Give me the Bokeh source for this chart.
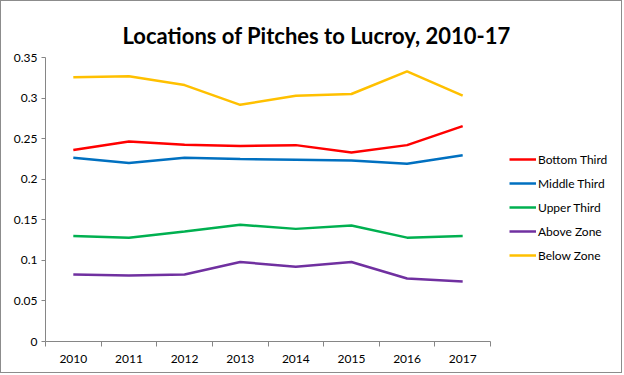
from bokeh.plotting import figure
from bokeh.models import Range1d, FixedTicker, Legend, LegendItem, Label
from bokeh.embed import file_html
from bokeh.resources import INLINE

years = [2010, 2011, 2012, 2013, 2014, 2015, 2016, 2017]
bottom_third = [0.236, 0.2465, 0.2425, 0.241, 0.242, 0.233, 0.242, 0.2655]
middle_third = [0.2265, 0.220, 0.2265, 0.225, 0.224, 0.223, 0.219, 0.2295]
upper_third = [0.130, 0.128, 0.1355, 0.1438, 0.1388, 0.143, 0.128, 0.130]
above_zone = [0.0826, 0.0813, 0.0826, 0.098, 0.092, 0.098, 0.0776, 0.074]
below_zone = [0.3257, 0.327, 0.316, 0.2917, 0.3028, 0.305, 0.333, 0.303]

series_names = ["Bottom Third", "Middle Third", "Upper Third", "Above Zone", "Below Zone"]
series_values = [bottom_third, middle_third, upper_third, above_zone, below_zone]
series_colors = ["#FF0000", "#0070C0", "#00B050", "#7030A0", "#FFC000"]

y_ticks = [0, 0.05, 0.1, 0.15, 0.2, 0.25, 0.3, 0.35]
y_tick_labels = ["0", "0.05", "0.1", "0.15", "0.2", "0.25", "0.3", "0.35"]
year_labels = ["2010", "2011", "2012", "2013", "2014", "2015", "2016", "2017"]
title_text = "Locations of Pitches to Lucroy, 2010-17"

FONT = "Lato"

# layout (pixels)
W, H = 622, 373
LEFT = 44
AXIS_W = 445          # x-axis length
AXIS_TOP = 56         # pixel row of the top of the y axis
AXIS_BOTTOM = 340     # pixel row of the x axis
FRAME_TOP = 2
RIGHT_PAD = 6
frame_w = W - LEFT - RIGHT_PAD
frame_h = AXIS_BOTTOM - FRAME_TOP
x0 = years[0] - 0.5
x1 = years[-1] + 0.5
y0, y1 = y_ticks[0], y_ticks[-1]
x_end = x0 + frame_w * (x1 - x0) / AXIS_W
y_end = y0 + frame_h * (y1 - y0) / (AXIS_BOTTOM - AXIS_TOP)

p = figure(width=W, height=H, output_backend="svg", toolbar_location=None,
           x_range=Range1d(x0, x_end), y_range=Range1d(y0, y_end),
           min_border_left=LEFT, min_border_right=RIGHT_PAD, min_border_top=FRAME_TOP,
           min_border_bottom=H - AXIS_BOTTOM,
           background_fill_color="white", border_fill_color="white")
p.styles = {"border": "1px solid #8c8c8c"}
p.outline_line_color = None
p.xgrid.visible = False
p.ygrid.visible = False

# title drawn as a label inside the (extended) frame
p.add_layout(Label(x=121 - LEFT, y=AXIS_BOTTOM - 34, x_units="screen", y_units="screen",
                   text=title_text, text_font=FONT, text_font_size="22px",
                   text_font_style="bold", text_color="#000000",
                   text_align="left", text_baseline="alphabetic"))

# y axis
p.yaxis.ticker = FixedTicker(ticks=y_ticks)
p.yaxis.major_label_overrides = {t: l for t, l in zip(y_ticks, y_tick_labels)}
p.yaxis.bounds = (y0, y1)
p.yaxis.major_tick_in = 0
p.yaxis.major_tick_out = 4
p.yaxis.minor_tick_in = 0
p.yaxis.minor_tick_out = 0
p.yaxis.major_label_standoff = 4

# x axis: labels at year centres, ticks at boundaries
half_ticks = [y - 0.5 for y in years] + [years[-1] + 0.5]
p.xaxis.ticker = FixedTicker(ticks=years, minor_ticks=half_ticks)
p.xaxis.major_label_overrides = {y: l for y, l in zip(years, year_labels)}
p.xaxis.bounds = (x0, x1)
p.xaxis.major_tick_in = 0
p.xaxis.major_tick_out = 0
p.xaxis.minor_tick_in = 0
p.xaxis.minor_tick_out = 5
p.xaxis.major_label_standoff = 8

for ax in (p.xaxis[0], p.yaxis[0]):
    ax.axis_line_color = "#868686"
    ax.major_tick_line_color = "#868686"
    ax.minor_tick_line_color = "#868686"
    ax.major_label_text_font = FONT
    ax.major_label_text_font_size = "12px"
    ax.major_label_text_color = "#000000"

items = []
for name, vals, col in zip(series_names, series_values, series_colors):
    r = p.line(years, vals, line_color=col, line_width=2.5)
    items.append(LegendItem(label=name, renderers=[r]))

legend = Legend(items=items, location=(464, 76), orientation="vertical")
legend.margin = 0
legend.padding = 0
legend.spacing = 4
legend.glyph_width = 27
legend.glyph_height = 20
legend.label_height = 20
legend.label_standoff = 2
legend.label_text_font = FONT
legend.label_text_font_size = "12px"
legend.label_text_color = "#000000"
legend.border_line_color = None
legend.background_fill_alpha = 0
p.add_layout(legend, "center")

open("out.html", "w").write(file_html(p, INLINE))
